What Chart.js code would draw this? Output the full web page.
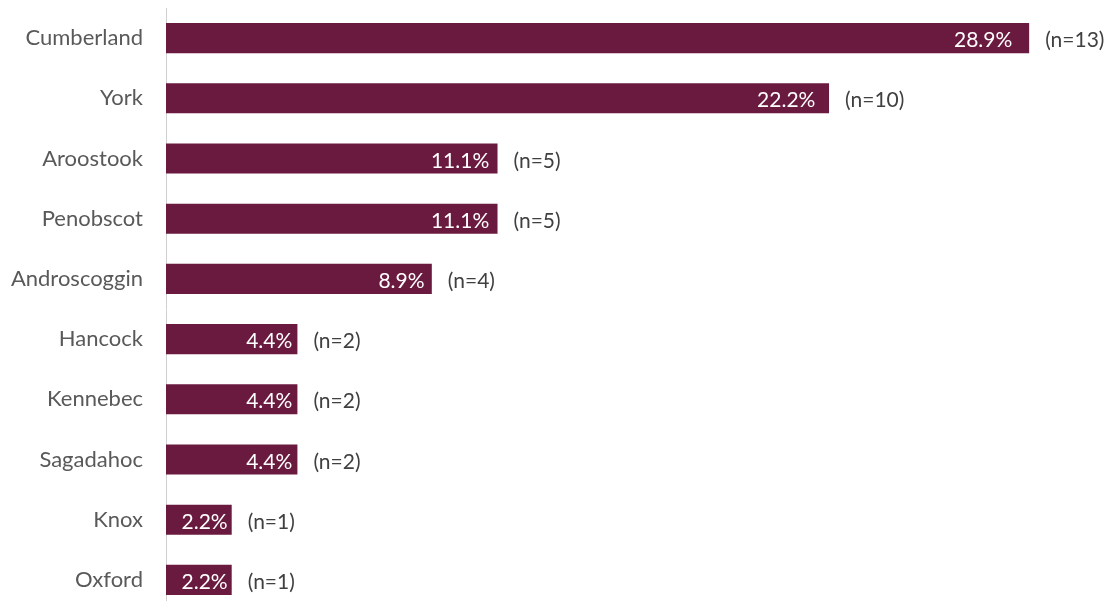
<!DOCTYPE html>
<html>
<head>
<meta charset="utf-8">
<script src="https://cdn.jsdelivr.net/npm/chart.js@4/dist/chart.umd.min.js"></script>
<style>
html,body{margin:0;padding:0;background:#fff;overflow:hidden;}
canvas{display:block;}
</style>
</head>
<body>
<canvas id="c" width="1115" height="610"></canvas>
<script>
const categories = ["Cumberland","York","Aroostook","Penobscot","Androscoggin","Hancock","Kennebec","Sagadahoc","Knox","Oxford"];
const percentValues = [28.9,22.2,11.1,11.1,8.9,4.4,4.4,4.4,2.2,2.2];
const counts = [13,10,5,5,4,2,2,2,1,1];

const FONT = "Lato, 'Open Sans', sans-serif";

const labelPlugin = {
  id: 'barLabels',
  afterDatasetsDraw(chart) {
    const ctx = chart.ctx;
    const meta = chart.getDatasetMeta(0);
    const base = chart.scales.x.getPixelForValue(0);
    ctx.save();
    ctx.font = "21px " + FONT;
    ctx.textBaseline = 'alphabetic';
    meta.data.forEach((bar, i) => {
      const xEnd = bar.x;
      const y = bar.y;
      const inset = 3 + 0.016 * (xEnd - base);
      ctx.fillStyle = '#ffffff';
      ctx.textAlign = 'right';
      ctx.fillText(percentValues[i].toFixed(1) + '%', xEnd - inset, y + 9);
      ctx.fillStyle = '#404040';
      ctx.textAlign = 'left';
      ctx.fillText('(n=' + counts[i] + ')', xEnd + 16, y + 9);
    });
    ctx.restore();
  }
};

new Chart(document.getElementById('c'), {
  type: 'bar',
  data: {
    labels: categories,
    datasets: [{
      data: percentValues,
      backgroundColor: '#6b1a3f',
      borderWidth: 0,
      barPercentage: 0.5,
      categoryPercentage: 1.0
    }]
  },
  options: {
    indexAxis: 'y',
    responsive: false,
    maintainAspectRatio: false,
    animation: false,
    layout: { padding: { top: 8, right: 53, bottom: 0, left: 0 } },
    plugins: { legend: { display: false }, tooltip: { enabled: false } },
    scales: {
      x: { display: false, min: 0, max: 30 },
      y: {
        afterFit(scale) { scale.width = 166; scale.paddingTop = 0; scale.paddingBottom = 0; },
        grid: { display: false, drawTicks: false },
        border: { display: true, color: '#d0d0d0', width: 1 },
        ticks: { color: '#595959', font: { family: FONT, size: 22 }, padding: 23 }
      }
    }
  },
  plugins: [labelPlugin]
});
</script>
</body>
</html>
